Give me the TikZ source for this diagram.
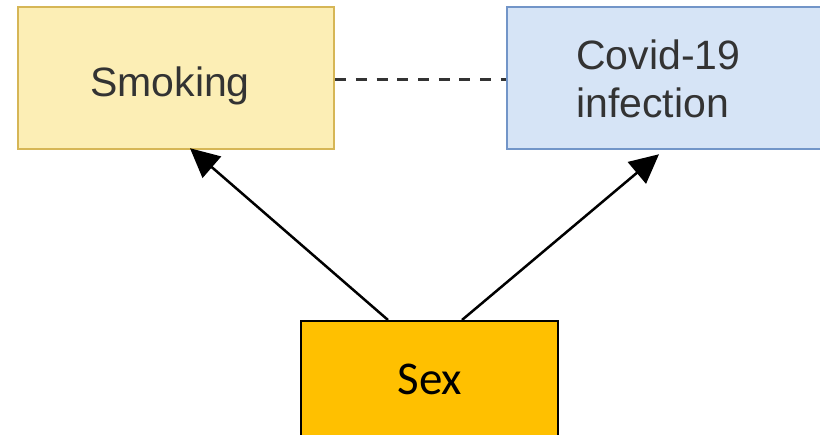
\documentclass[tikz,border=0pt]{standalone}
\usepackage{fontspec}
\setmainfont{Liberation Sans}
\newfontfamily\calibrifont{Carlito}
\usetikzlibrary{arrows.meta}
\definecolor{smokefill}{HTML}{FCEEB5}
\definecolor{smokeline}{HTML}{D6B656}
\definecolor{covidfill}{HTML}{D6E4F6}
\definecolor{covidline}{HTML}{7295C8}
\definecolor{sexfill}{HTML}{FFC000}
\definecolor{labeltext}{HTML}{333333}
\tikzset{
  factorbox/.style={draw, line width=2.5pt, rectangle, inner sep=0pt},
  factorlabel/.style={inner sep=0pt, text=labeltext, font=\fontsize{41}{48}\selectfont},
  causal/.style={draw=black, line width=2.5pt, -{Triangle[length=29pt,width=28pt]}},
  assoc/.style={draw=labeltext, line width=3pt, dash pattern=on 11pt off 9.7pt}
}
\begin{document}
\begin{tikzpicture}[x=1pt,y=-1pt]
  \useasboundingbox (0,0) rectangle (820,435);
  \clip (0,0) rectangle (820,435);
  \fill[white] (0,0) rectangle (820,435);

  % boxes
  \node[factorbox, fill=smokefill, draw=smokeline, minimum width=316pt, minimum height=142pt]
    (smoking) at (176,78) {};
  \node[factorbox, fill=covidfill, draw=covidline, minimum width=323pt, minimum height=142pt]
    (covid) at (668.5,78) {};
  \node[draw=black, line width=2pt, fill=sexfill, inner sep=0pt, minimum width=257pt, minimum height=130pt]
    (sex) at (429.5,386) {};

  % labels (the two-line label is placed by the baseline of its last line)
  \node[factorlabel, anchor=base] (smokingtext) at (170,97) {Smoking};
  \node[factorlabel, anchor=base west, align=left] (covidtext) at (576,118) {Covid-19\\infection};
  \node[inner sep=0pt, anchor=base, font=\calibrifont\fontsize{47}{56}\selectfont] (sextext) at (430,395) {Sex};

  % arrow ends
  \coordinate (sexleft) at ([xshift=-41.5pt]sex.north);
  \coordinate (sexright) at ([xshift=32.5pt]sex.north);
  \coordinate (smokingtip) at ([xshift=14pt,yshift=2pt]smoking.south);
  \coordinate (covidtip) at ([xshift=-9.5pt,yshift=-4pt]covid.south);

  % connectors
  \draw[assoc] ([yshift=-2pt]smoking.east) -- ([yshift=-2pt]covid.west);
  \draw[causal] (sexleft) -- (smokingtip);
  \draw[causal] (sexright) -- (covidtip);
\end{tikzpicture}
\end{document}
